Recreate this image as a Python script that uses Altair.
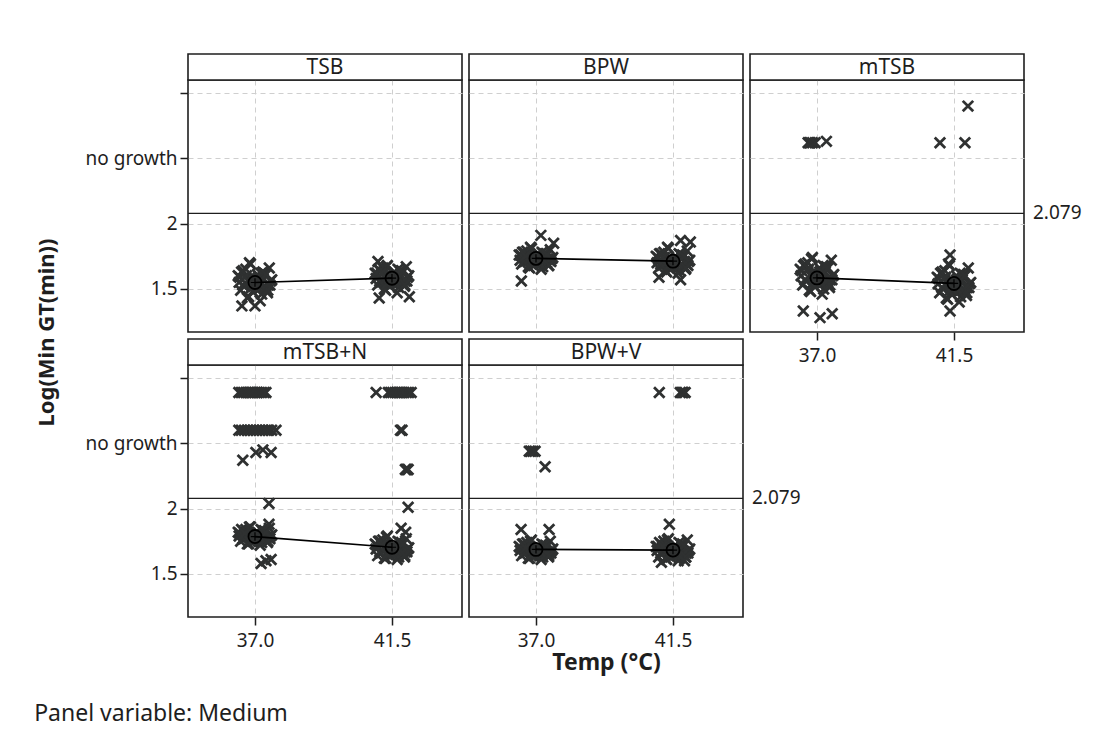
import altair as alt
import pandas as pd

# ---------------- data ----------------
MEDIA = ["TSB", "BPW", "mTSB", "mTSB+N", "BPW+V"]
TEMPS = [37.0, 41.5]
REF_VALUE = 2.079
REF_TEXT = "2.079"
Y_TICKS = [1.5, 2.0, 2.5, 3.0]
X_TICKS = [37.0, 41.5]

# horizontal jitter (deg C) used for the dense clouds
JITTER = [-0.52, 0.31, -0.08, 0.47, -0.36, 0.12, -0.21, 0.55,
          -0.44, 0.03, 0.38, -0.15, 0.22, -0.55, 0.44, -0.02,
          0.17, -0.30, 0.51, -0.47, 0.08, -0.11, 0.35, -0.39,
          0.27, -0.25, 0.05, 0.49, -0.18, 0.14, -0.50, 0.41,
          0.02, -0.28, 0.33, -0.12, 0.20, -0.40, 0.09, 0.42,
          -0.20, 0.26, -0.05, -0.34, 0.15, 0.36, -0.16, -0.02]

TSB_37 = [1.55, 1.62, 1.48, 1.66, 1.52, 1.59, 1.44, 1.57, 1.63, 1.50, 1.54, 1.69, 1.46, 1.60, 1.53, 1.58,
          1.41, 1.65, 1.56, 1.49, 1.61, 1.55, 1.51, 1.64, 1.58, 1.43, 1.57, 1.53, 1.70, 1.50, 1.59, 1.47,
          1.55, 1.60, 1.51, 1.57, 1.62, 1.53, 1.58, 1.49, 1.56, 1.63, 1.52, 1.59, 1.54, 1.61, 1.50, 1.57]
TSB_415 = [1.58, 1.64, 1.52, 1.67, 1.55, 1.61, 1.49, 1.60, 1.65, 1.54, 1.57, 1.68, 1.51, 1.62, 1.56, 1.60,
           1.47, 1.66, 1.59, 1.53, 1.63, 1.58, 1.55, 1.64, 1.61, 1.50, 1.59, 1.56, 1.67, 1.54, 1.62, 1.52,
           1.59, 1.63, 1.55, 1.60, 1.65, 1.56, 1.61, 1.53, 1.58, 1.64, 1.55, 1.62, 1.57, 1.63, 1.54, 1.60]
BPW_37 = [1.72, 1.77, 1.68, 1.80, 1.71, 1.75, 1.66, 1.74, 1.78, 1.70, 1.73, 1.81, 1.67, 1.76, 1.72, 1.74,
          1.65, 1.79, 1.73, 1.69, 1.77, 1.72, 1.70, 1.78, 1.75, 1.67, 1.74, 1.71, 1.82, 1.69, 1.76, 1.68,
          1.73, 1.76, 1.70, 1.74, 1.78, 1.71, 1.75, 1.68, 1.73, 1.77, 1.70, 1.75, 1.72, 1.76, 1.69, 1.74]
BPW_415 = [1.70, 1.76, 1.65, 1.79, 1.68, 1.73, 1.63, 1.72, 1.77, 1.67, 1.71, 1.81, 1.64, 1.75, 1.69, 1.72,
           1.62, 1.78, 1.71, 1.66, 1.75, 1.70, 1.67, 1.77, 1.73, 1.64, 1.72, 1.68, 1.82, 1.66, 1.74, 1.65,
           1.71, 1.74, 1.68, 1.72, 1.77, 1.69, 1.73, 1.66, 1.71, 1.76, 1.68, 1.74, 1.70, 1.75, 1.67, 1.72]
MTSB_37 = [1.60, 1.67, 1.52, 1.72, 1.56, 1.63, 1.48, 1.61, 1.68, 1.54, 1.58, 1.74, 1.50, 1.65, 1.57, 1.62,
           1.46, 1.70, 1.60, 1.53, 1.66, 1.59, 1.55, 1.69, 1.63, 1.49, 1.61, 1.57, 1.73, 1.54, 1.64, 1.51,
           1.61, 1.65, 1.56, 1.62, 1.68, 1.57, 1.63, 1.53, 1.60, 1.67, 1.55, 1.64, 1.58, 1.66, 1.54, 1.61]
MTSB_415 = [1.54, 1.61, 1.46, 1.66, 1.50, 1.57, 1.42, 1.55, 1.62, 1.48, 1.52, 1.68, 1.44, 1.59, 1.51, 1.56,
            1.40, 1.64, 1.54, 1.47, 1.60, 1.53, 1.49, 1.63, 1.57, 1.43, 1.55, 1.51, 1.69, 1.48, 1.58, 1.45,
            1.54, 1.59, 1.50, 1.56, 1.62, 1.51, 1.57, 1.47, 1.54, 1.61, 1.49, 1.58, 1.52, 1.60, 1.48, 1.55]
MTSBN_37 = [1.79, 1.83, 1.75, 1.85, 1.77, 1.81, 1.73, 1.80, 1.84, 1.76, 1.78, 1.86, 1.74, 1.82, 1.78, 1.80,
            1.72, 1.84, 1.79, 1.75, 1.82, 1.79, 1.76, 1.83, 1.81, 1.73, 1.80, 1.77, 1.86, 1.75, 1.81, 1.74,
            1.79, 1.82, 1.76, 1.80, 1.84, 1.77, 1.81, 1.75, 1.79, 1.83, 1.76, 1.81, 1.78, 1.82, 1.75, 1.80]
MTSBN_415 = [1.69, 1.74, 1.64, 1.77, 1.66, 1.71, 1.62, 1.70, 1.75, 1.65, 1.68, 1.79, 1.63, 1.73, 1.67, 1.70,
             1.61, 1.76, 1.69, 1.64, 1.72, 1.68, 1.66, 1.75, 1.71, 1.62, 1.70, 1.67, 1.78, 1.65, 1.72, 1.63,
             1.69, 1.73, 1.66, 1.70, 1.75, 1.67, 1.71, 1.64, 1.69, 1.74, 1.66, 1.72, 1.68, 1.73, 1.65, 1.70]
BPWV_37 = [1.68, 1.72, 1.64, 1.75, 1.66, 1.70, 1.62, 1.69, 1.73, 1.65, 1.67, 1.76, 1.63, 1.71, 1.66, 1.69,
           1.61, 1.74, 1.68, 1.64, 1.71, 1.67, 1.65, 1.73, 1.70, 1.62, 1.69, 1.66, 1.75, 1.64, 1.70, 1.63,
           1.68, 1.71, 1.65, 1.69, 1.73, 1.66, 1.70, 1.64, 1.68, 1.72, 1.65, 1.70, 1.67, 1.71, 1.64, 1.69]
BPWV_415 = [1.68, 1.73, 1.63, 1.76, 1.65, 1.70, 1.61, 1.69, 1.74, 1.64, 1.67, 1.77, 1.62, 1.71, 1.66, 1.69,
            1.60, 1.75, 1.68, 1.63, 1.72, 1.67, 1.65, 1.73, 1.70, 1.62, 1.69, 1.66, 1.76, 1.64, 1.71, 1.63,
            1.68, 1.72, 1.65, 1.69, 1.74, 1.66, 1.70, 1.63, 1.68, 1.73, 1.65, 1.71, 1.67, 1.72, 1.64, 1.69]

# isolated points: (jitter offset, value)
TSB_37_EXTRA = [(-0.43, 1.37), (0.00, 1.37)]
TSB_415_EXTRA = [(-0.46, 1.71), (-0.42, 1.43), (0.57, 1.44)]
BPW_37_EXTRA = [(0.16, 1.91), (0.58, 1.85), (-0.48, 1.56)]
BPW_415_EXTRA = [(-0.46, 1.59), (0.25, 1.57), (0.25, 1.87), (0.57, 1.86)]
MTSB_37_EXTRA = [(-0.45, 1.33), (0.10, 1.28), (0.50, 1.31),
                 (-0.29, 2.62), (-0.25, 2.62), (-0.22, 2.62), (-0.15, 2.62), (-0.06, 2.62), (0.31, 2.63)]
MTSB_415_EXTRA = [(-0.13, 1.33), (-0.13, 1.76), (-0.46, 2.62), (0.36, 2.62), (0.46, 2.90)]
MTSBN_37_EXTRA = [(0.46, 2.04), (0.46, 1.88), (0.20, 1.58), (0.53, 1.61), (0.36, 1.60),
                  (-0.40, 2.37), (0.03, 2.43), (0.26, 2.45), (0.53, 2.43),
                  (-0.53, 2.89), (-0.45, 2.89), (-0.38, 2.89), (-0.30, 2.89), (-0.22, 2.89), (-0.15, 2.89),
                  (-0.08, 2.89), (0.00, 2.89), (0.08, 2.89), (0.15, 2.89), (0.22, 2.89), (0.30, 2.89), (0.36, 2.89),
                  (-0.53, 2.60), (-0.45, 2.60), (-0.35, 2.60), (-0.25, 2.60), (-0.15, 2.60), (-0.05, 2.60),
                  (0.05, 2.60), (0.15, 2.60), (0.25, 2.60), (0.35, 2.60), (0.45, 2.60), (0.55, 2.60), (0.69, 2.60)]
MTSBN_415_EXTRA = [(0.30, 1.85), (0.45, 1.82), (0.53, 2.01),
                   (0.44, 2.30), (0.47, 2.30), (0.50, 2.30), (0.53, 2.30),
                   (0.28, 2.60), (0.33, 2.60),
                   (-0.52, 2.89), (-0.12, 2.89), (-0.05, 2.89), (0.02, 2.89), (0.10, 2.89), (0.17, 2.89),
                   (0.25, 2.89), (0.32, 2.89), (0.40, 2.89), (0.48, 2.89), (0.55, 2.89), (0.63, 2.89)]
BPWV_37_EXTRA = [(-0.49, 1.84), (0.43, 1.84),
                 (-0.22, 2.44), (-0.17, 2.44), (-0.10, 2.44), (-0.03, 2.44), (0.30, 2.32)]
BPWV_415_EXTRA = [(-0.12, 1.88), (-0.38, 1.59), (0.38, 1.60),
                  (-0.45, 2.89), (0.24, 2.89), (0.30, 2.89), (0.34, 2.89), (0.40, 2.89)]

GROUPS = [
    ("TSB", 37.0, TSB_37, TSB_37_EXTRA), ("TSB", 41.5, TSB_415, TSB_415_EXTRA),
    ("BPW", 37.0, BPW_37, BPW_37_EXTRA), ("BPW", 41.5, BPW_415, BPW_415_EXTRA),
    ("mTSB", 37.0, MTSB_37, MTSB_37_EXTRA), ("mTSB", 41.5, MTSB_415, MTSB_415_EXTRA),
    ("mTSB+N", 37.0, MTSBN_37, MTSBN_37_EXTRA), ("mTSB+N", 41.5, MTSBN_415, MTSBN_415_EXTRA),
    ("BPW+V", 37.0, BPWV_37, BPWV_37_EXTRA), ("BPW+V", 41.5, BPWV_415, BPWV_415_EXTRA),
]

rows = []
for med, temp, dense, extra in GROUPS:
    for dx, y in zip(JITTER, dense):
        rows.append({"Medium": med, "Temp": temp, "xj": temp + dx, "y": y})
    for dx, y in extra:
        rows.append({"Medium": med, "Temp": temp, "xj": temp + dx, "y": y})
df = pd.DataFrame(rows)
ref_df = pd.DataFrame({"ref": [REF_VALUE], "label": [REF_TEXT]})

# ---------------- layout / style ----------------
W, H, STRIP = 274, 252, 26
FONT = "Noto Sans"
INK = "#1e1e1e"
PT = "#2f3131"
XS = alt.Scale(domain=[34.8, 43.8], nice=False, zero=False)
YS = alt.Scale(domain=[1.17, 3.1], nice=False, zero=False)
XPATH = "M-1,-1L1,1M-1,1L1,-1"
PLUS = "M-1,0L1,0M0,-1L0,1"


def panel(med, y_labels, x_labels, y_title, x_title, ref_label):
    ykw = dict(values=Y_TICKS, format="~g",
               labelExpr="datum.value == 2.5 ? 'no growth' : (datum.value == 3 ? '' : datum.label)",
               labels=y_labels, ticks=y_labels, grid=True, domain=False)
    if y_title:
        ykw.update(title="Log(Min GT(min))", titleX=-142, titleY=252, titleAngle=270,
                   titleBaseline="middle", titleAlign="center", titleFontSize=22,
                   titleFontWeight="bold")
    else:
        ykw["title"] = None
    xkw = dict(values=X_TICKS, format=".1f", labels=x_labels, ticks=x_labels,
               grid=True, domain=False, labelPadding=6)
    if x_title:
        xkw.update(title="Temp (°C)", titleFontSize=23, titleFontWeight="bold", titlePadding=1)
    else:
        xkw["title"] = None
    yaxis = alt.Axis(**ykw)
    xaxis = alt.Axis(**xkw)

    base = alt.Chart(df).transform_filter(alt.datum.Medium == med)

    ref = alt.Chart(ref_df).mark_rule(color=INK, strokeWidth=1.3).encode(
        y=alt.Y("ref:Q", scale=YS, axis=yaxis))

    pts = base.mark_point(shape=XPATH, size=110, strokeWidth=2.8, color=PT,
                          filled=False, opacity=1).encode(
        x=alt.X("xj:Q", scale=XS, axis=xaxis),
        y=alt.Y("y:Q", scale=YS, axis=yaxis))

    means = base.transform_filter(alt.datum.y < REF_VALUE).transform_aggregate(
        mean_y="mean(y)", groupby=["Temp"])
    enc = dict(x=alt.X("Temp:Q", scale=XS, axis=xaxis),
               y=alt.Y("mean_y:Q", scale=YS, axis=yaxis))
    line = means.mark_line(color="black", strokeWidth=1.7).encode(order="Temp:Q", **enc)
    circ = means.mark_point(shape="circle", size=170, color="black", strokeWidth=1.8,
                            filled=False, opacity=1).encode(**enc)
    plus = means.mark_point(shape=PLUS, size=70, color="black", strokeWidth=1.2,
                            filled=False, opacity=1).encode(**enc)

    sdf = pd.DataFrame({"Medium": [med]})
    strip = alt.Chart(sdf).mark_rect(fill="white", stroke=INK, strokeWidth=1.6).encode(
        x=alt.value(0), x2=alt.value(W), y=alt.value(-STRIP), y2=alt.value(0))
    stext = alt.Chart(sdf).mark_text(font=FONT, fontSize=21, color=INK, baseline="middle").encode(
        x=alt.value(W / 2), y=alt.value(-STRIP / 2 + 1), text="Medium:N")

    layers = [ref, pts, line, circ, plus, strip, stext]
    if ref_label:
        layers.append(alt.Chart(ref_df).mark_text(font=FONT, fontSize=19, color=INK,
                                                  align="left", baseline="middle").encode(
            x=alt.value(W + 9), y=alt.Y("ref:Q", scale=YS, axis=yaxis), text="label:N"))
    return alt.layer(*layers).properties(width=W, height=H)


panels = [
    panel("TSB", True, False, True, False, False),
    panel("BPW", False, False, False, False, False),
    panel("mTSB", False, True, False, False, True),
    panel("mTSB+N", True, True, False, False, False),
    panel("BPW+V", False, True, False, True, True),
]

chart = alt.concat(
    *panels, columns=3, spacing={"row": 33, "column": 7}, bounds="flush",
    title=alt.TitleParams("Panel variable: Medium", orient="bottom", anchor="start",
                          fontSize=23, fontWeight="normal", font=FONT, color=INK, offset=28),
).properties(
    padding={"left": 26, "top": 44, "right": 10, "bottom": 6}
).configure_view(
    stroke=INK, strokeWidth=1.6
).configure_axis(
    gridColor="#cfcfcf", gridDash=[5, 4], gridWidth=1,
    tickColor=INK, tickSize=8, tickWidth=1.5,
    labelFont=FONT, labelFontSize=19, labelColor=INK, labelPadding=3,
    titleFont=FONT, titleColor=INK,
)

chart.save("out.html", embed_options={"renderer": "svg", "actions": False})
